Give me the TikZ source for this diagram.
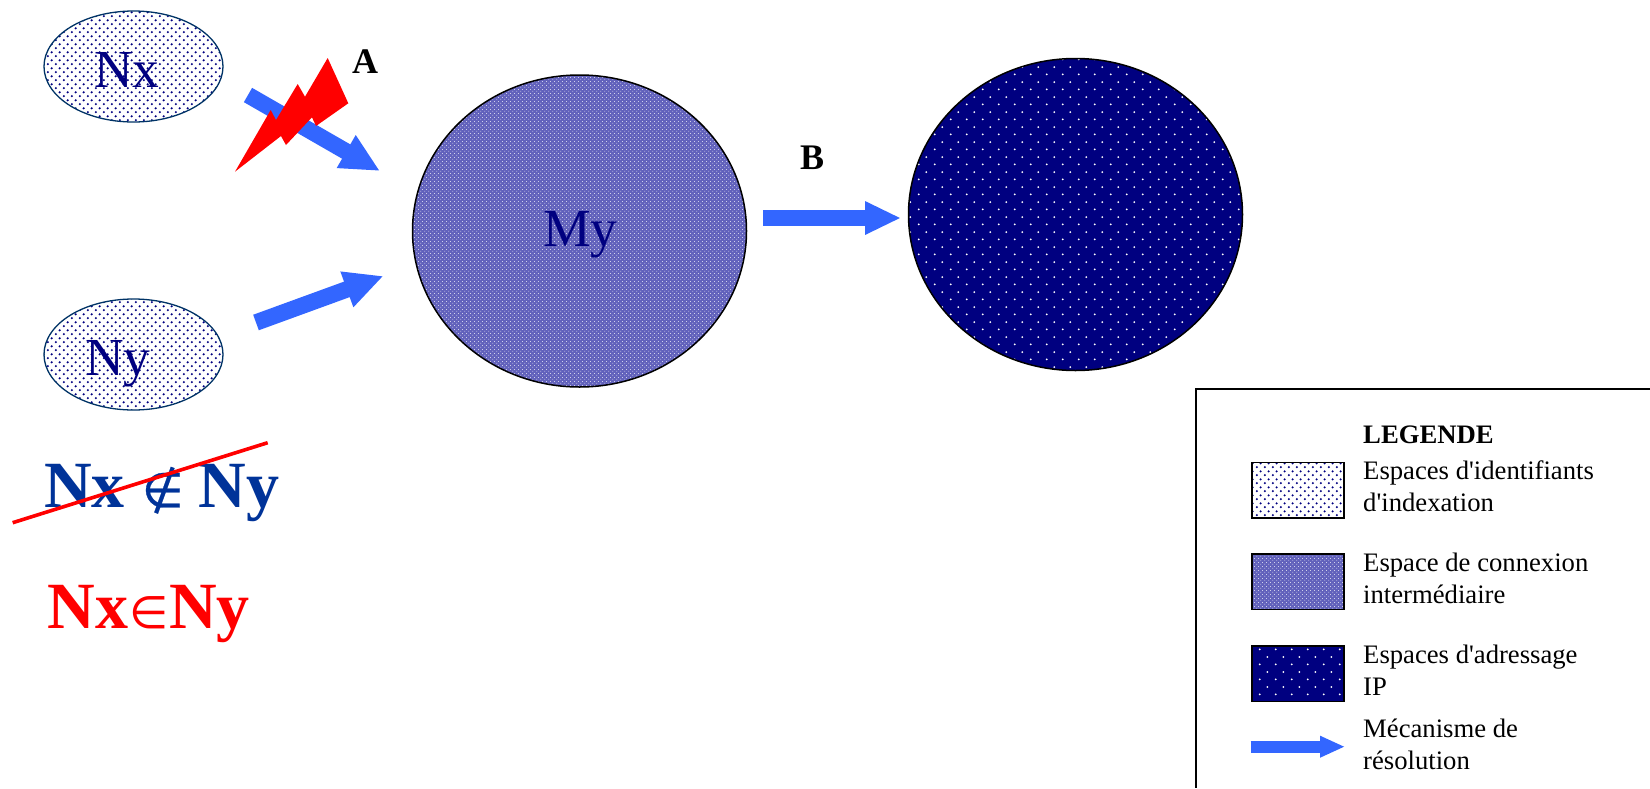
\documentclass[tikz,border=0pt]{standalone}
\usepackage{fontspec}
\setmainfont{Liberation Serif}[Ligatures=TeXOff]
\newfontfamily\symfam{DejaVu Sans}
\newfontfamily\symfamb{DejaVu Sans}[FakeBold=0.6]
\usetikzlibrary{shapes.geometric,patterns,arrows.meta}
\definecolor{navyfill}{HTML}{000080}
\definecolor{arrowblue}{HTML}{3366FF}
\definecolor{inkblue}{HTML}{003399}
\definecolor{edgeblue}{HTML}{003366}
\definecolor{midfill}{HTML}{6262BC}
\pgfdeclarepatternformonly{spacedots}{\pgfqpoint{0pt}{0pt}}{\pgfqpoint{7.75pt}{7.75pt}}{\pgfqpoint{7.75pt}{7.75pt}}{%
  \pgfpathcircle{\pgfqpoint{1.94pt}{1.94pt}}{1.2pt}%
  \pgfpathcircle{\pgfqpoint{5.81pt}{5.81pt}}{1.2pt}%
  \pgfusepath{fill}}
\pgfdeclarepatternformonly{widedots}{\pgfqpoint{0pt}{0pt}}{\pgfqpoint{15.5pt}{15.2pt}}{\pgfqpoint{15.5pt}{15.2pt}}{%
  \pgfpathcircle{\pgfqpoint{3.87pt}{3.8pt}}{1.05pt}%
  \pgfpathcircle{\pgfqpoint{11.62pt}{11.4pt}}{1.05pt}%
  \pgfusepath{fill}}
\pgfdeclarepatternformonly{finecheck}{\pgfqpoint{0pt}{0pt}}{\pgfqpoint{4pt}{4pt}}{\pgfqpoint{4pt}{4pt}}{%
  \pgfpathrectangle{\pgfqpoint{0.5pt}{0.5pt}}{\pgfqpoint{1pt}{1pt}}%
  \pgfpathrectangle{\pgfqpoint{2.5pt}{2.5pt}}{\pgfqpoint{1pt}{1pt}}%
  \pgfusepath{fill}}
\tikzset{
  idfill/.style={preaction={fill=white},pattern=spacedots,pattern color=navyfill},
  midstyle/.style={preaction={fill=midfill},pattern=finecheck,pattern color=white!70!midfill},
  ipfill/.style={preaction={fill=navyfill},pattern=widedots,pattern color=white},
  smallblob/.style={ellipse,draw=edgeblue,line width=1.3pt,inner sep=0pt,minimum width=179pt,minimum height=111pt,idfill},
  bigblob/.style={ellipse,draw=black,line width=1.5pt,inner sep=0pt,minimum width=334pt,minimum height=312pt},
  blocklabel/.style={anchor=base west,inner sep=0pt,text=navyfill,font=\fontsize{53.5}{54}\selectfont},
  letter/.style={anchor=base west,inner sep=0pt,font=\fontsize{36}{36}\selectfont\bfseries},
  formula/.style={anchor=base west,inner sep=0pt,font=\fontsize{66}{66}\selectfont\bfseries},
  resolve/.style={draw=arrowblue,line width=16.5pt,-{Triangle[length=39pt,width=35pt]}},
  swatch/.style={draw=black,line width=1.5pt,minimum width=92pt,minimum height=55.5pt,inner sep=0pt,anchor=north west},
  legendtext/.style={anchor=base west,inner sep=0pt,align=left,font=\fontsize{26.67}{32}\selectfont},
}
\begin{document}
\begin{tikzpicture}[x=1pt,y=-1pt]
\useasboundingbox (0,0) rectangle (1650,788);
\fill[white] (0,0) rectangle (1650,788);
% blobs
\node[smallblob] (nx) at (133.5,66.5) {};
\node[smallblob] (ny) at (133.5,354.5) {};
\node[bigblob,midstyle] (my) at (579.5,231) {};
\node[bigblob,ipfill] (ip) at (1075.5,214.5) {};
\node[blocklabel] (nxt) at (94,87) {Nx};
\node[blocklabel] (nyt) at (85,375.5) {Ny};
\node[blocklabel] (myt) at (543,246) {My};
% arrows
\coordinate (a1s) at (248,95);
\coordinate (a1e) at (380,171);
\coordinate (a2s) at (256,322.5);
\coordinate (a2e) at (383.5,276);
\coordinate (a3s) at (763,218);
\coordinate (a3e) at (901,218);
\draw[resolve] (a1s) -- (a1e);
\draw[resolve] (a2s) -- (a2e);
\draw[resolve,line width=16pt,-{Triangle[length=36pt,width=31pt]}] (a3s) -- (a3e);
% lightning
\fill[red] (235,171.7) -- (270.7,110) -- (276,120) -- (297.7,84) -- (305,96.7) -- (327.7,58) -- (348.3,103.3) -- (316,126) -- (312,117.3) -- (286,145) -- (281,136) -- cycle;
\node[letter] (la) at (352,73) {A};
\node[letter] (lb) at (800,169) {B};
% formulas
\node[formula,text=inkblue] (f1) at (44,507) {Nx\kern17pt{\symfamb\mdseries\fontsize{48}{48}\selectfont ∉}\kern15pt Ny};
\coordinate (ss) at (12.7,522.7);
\coordinate (se) at (267.7,442.7);
\draw[red,line width=3.6pt] (ss) -- (se);
\node[formula,text=red] (f2) at (47.5,628) {Nx\kern1.5pt{\symfam\mdseries\fontsize{45}{45}\selectfont ∈}\kern0pt Ny};
% legend
\coordinate (bx1) at (1650,389);
\coordinate (bx2) at (1196,389);
\coordinate (bx3) at (1196,788);
\draw[black,line width=1.6pt] (bx1) -- (bx2) -- (bx3);
\node[legendtext,font=\fontsize{26.67}{32}\selectfont\bfseries] (lg) at (1363,443) {LEGENDE};
\node[swatch,idfill] (s1) at (1251,461.7) {};
\node[swatch,midstyle] (s2) at (1251,553) {};
\node[swatch,ipfill] (s3) at (1251,645) {};
\node[legendtext] (t1) at (1363,511.7) {Espaces d'identifiants\\d'indexation};
\node[legendtext] (t2) at (1363,603.7) {Espace de connexion\\intermédiaire};
\node[legendtext] (t3) at (1363,695.5) {Espaces d'adressage\\IP};
\node[legendtext] (t4) at (1363,769) {Mécanisme de\\résolution};
\coordinate (la1) at (1250.7,746.7);
\coordinate (la2) at (1345,746.7);
\draw[draw=arrowblue,line width=11.7pt,-{Triangle[length=25pt,width=20pt]}] (la1) -- (la2);
\end{tikzpicture}
\end{document}
